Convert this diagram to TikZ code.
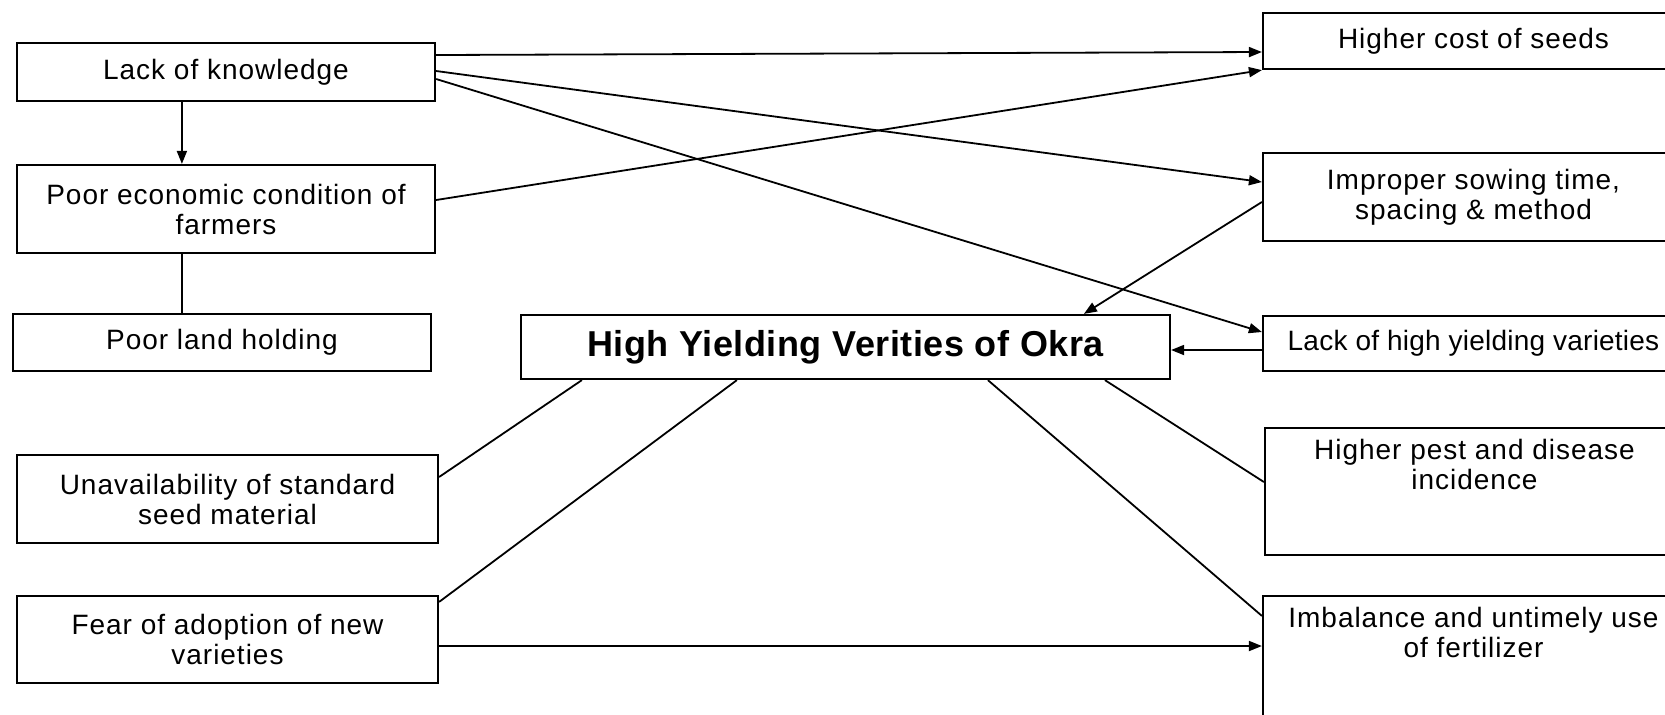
\documentclass[tikz,border=0pt]{standalone}
\usepackage{fontspec}
\setmainfont{Liberation Sans}[LetterSpace=3.5]
\usetikzlibrary{calc,arrows.meta}

\begin{document}
\begin{tikzpicture}[x=0.5pt,y=-0.5pt,
    box/.style={draw, line width=1.1pt, align=center, inner sep=0pt,
        font=\fontsize{14pt}{15pt}\selectfont},
    topbox/.style={box, text depth=27pt},
    link/.style={line width=0.9pt},
    arr/.style={link, -{Triangle[length=6.5pt,width=5pt]}}]
    \useasboundingbox (0,0) rectangle (1665,714);
    \clip (0,0) rectangle (1665,714);

    \node[box, minimum width=209pt, minimum height=29pt] (lack) at (226,72) {Lack of knowledge};
    \node[box, minimum width=209pt, minimum height=44pt] (poor) at (226,209) {Poor economic condition of\\farmers};
    \node[box, minimum width=209pt, minimum height=28.5pt] (land) at (222,342.5) {Poor land holding};
    \node[box, minimum width=210.5pt, minimum height=44pt] (unavail) at (227.5,499) {Unavailability of standard\\seed material};
    \node[box, minimum width=210.5pt, minimum height=43.5pt] (fear) at (227.5,639.5) {Fear of adoption of new\\varieties};

    \node[box, minimum width=324.5pt, minimum height=32pt,
        font=\fontsize{18pt}{21pt}\selectfont\bfseries\addfontfeatures{LetterSpace=1.5}] (hyv) at (845.5,347) {High Yielding Verities of Okra};

    \node[box, minimum width=210.5pt, minimum height=28pt] (cost) at (1473.5,41) {Higher cost of seeds};
    \node[box, minimum width=210.5pt, minimum height=44pt] (sowing) at (1473.5,197) {Improper sowing time,\\spacing \& method};
    \node[box, minimum width=210.5pt, minimum height=27.5pt,
        font=\fontsize{14pt}{15pt}\selectfont\addfontfeatures{LetterSpace=0.8}] (lackhyv) at (1473.5,343.5) {Lack of high yielding varieties};
    \node[topbox, minimum width=209.5pt, minimum height=63.5pt] (pest) at (1474.5,491.5) {Higher pest and disease\\incidence};
    \node[topbox, minimum width=210.5pt, minimum height=63.5pt] (fert) at (1473.5,659.5) {Imbalance and untimely use\\of fertilizer};

    \draw[arr] ($(lack.east)+(0,-17)$) -- ($(cost.west)+(0,11)$);
    \draw[arr] ($(lack.east)+(0,-1)$) -- ($(sowing.west)+(0,-15)$);
    \draw[arr] ($(lack.east)+(0,7)$) -- ($(lackhyv.west)+(0,-11.5)$);
    \draw[arr] ($(lack.south west)+(166,0)$) -- ($(poor.north west)+(166,0)$);
    \draw[arr] ($(poor.east)+(0,-9)$) -- (cost.south west);
    \draw[link] ($(poor.south west)+(166,0)$) -- ($(land.north west)+(170,0)$);

    \draw[arr] ($(sowing.west)+(0,5)$) -- ($(hyv.north west)+(564,0)$);
    \draw[arr] ($(lackhyv.west)+(0,6.5)$) -- ($(hyv.east)+(0,3)$);

    \draw[link] ($(hyv.south west)+(62,0)$) -- ($(unavail.east)+(0,-22)$);
    \draw[link] ($(hyv.south west)+(217,0)$) -- ($(fear.north east)+(0,7)$);
    \draw[link] ($(hyv.south west)+(468,0)$) -- ($(fert.north west)+(0,21)$);
    \draw[link] ($(hyv.south west)+(585,0)$) -- ($(pest.west)+(0,-9.5)$);
    \draw[arr] ($(fear.east)+(0,6.5)$) -- ($(fert.west)+(0,-13.5)$);
\end{tikzpicture}
\end{document}
